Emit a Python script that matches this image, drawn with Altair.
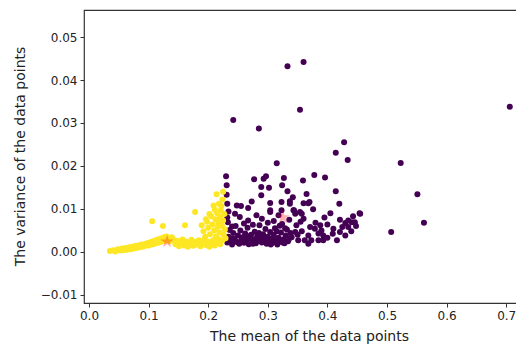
import altair as alt
import pandas as pd

# ---- cluster 0 (purple) ----
purple_pts = [
    (0.333, 0.0432), (0.360, 0.0442), (0.354, 0.0331), (0.242, 0.0307), (0.285, 0.0287),
    (0.428, 0.0255), (0.414, 0.0231), (0.434, 0.0214), (0.706, 0.0338), (0.523, 0.0207),
    (0.551, 0.0134), (0.455, 0.0089), (0.562, 0.0068), (0.507, 0.0046),
    (0.315, 0.0206), (0.230, 0.0176), (0.277, 0.0169), (0.297, 0.0176), (0.293, 0.0170),
    (0.327, 0.0172), (0.378, 0.0179), (0.396, 0.0173), (0.359, 0.0166),
    (0.324, 0.0155), (0.289, 0.0151), (0.302, 0.0149), (0.365, 0.0135), (0.414, 0.0141),
    (0.333, 0.0141), (0.231, 0.0133), (0.289, 0.0132),
    (0.323, 0.0116), (0.337, 0.0118), (0.304, 0.0114), (0.368, 0.0113), (0.420, 0.0112),
    (0.273, 0.0117), (0.248, 0.0108), (0.255, 0.0107), (0.267, 0.0102),
    (0.304, 0.0097), (0.323, 0.0097), (0.343, 0.0097), (0.354, 0.0093), (0.376, 0.0099),
    (0.234, 0.0094), (0.454, 0.0090), (0.443, 0.0083), (0.435, 0.0073),
    (0.360, 0.0113), (0.370, 0.0116), (0.344, 0.0097), (0.346, 0.0089), (0.357, 0.0089),
    (0.360, 0.0077), (0.421, 0.0075), (0.430, 0.0067), (0.441, 0.0069), (0.446, 0.0069),
    (0.435, 0.0058), (0.348, 0.0062), (0.346, 0.0046), (0.371, 0.0058), (0.379, 0.0054),
    (0.388, 0.0062), (0.390, 0.0050), (0.393, 0.0038), (0.410, 0.0054), (0.409, 0.0042),
    (0.416, 0.0027), (0.421, 0.0046), (0.430, 0.0038), (0.368, 0.0038), (0.373, 0.0027),
    (0.385, 0.0027), (0.393, 0.0027), (0.362, 0.0027), (0.368, 0.0019), (0.340, 0.0034),
    (0.351, 0.0027), (0.337, 0.0112), (0.342, 0.0127),
    (0.232, 0.0022), (0.234, 0.0035), (0.236, 0.0051), (0.238, 0.0028), (0.240, 0.0017),
    (0.242, 0.0044), (0.244, 0.0030), (0.246, 0.0060), (0.248, 0.0023), (0.250, 0.0038),
    (0.252, 0.0019), (0.254, 0.0050), (0.256, 0.0029), (0.258, 0.0034), (0.260, 0.0021),
    (0.262, 0.0043), (0.264, 0.0026), (0.266, 0.0056), (0.268, 0.0018), (0.270, 0.0032),
    (0.272, 0.0040), (0.274, 0.0024), (0.276, 0.0029), (0.278, 0.0047), (0.280, 0.0020),
    (0.282, 0.0036), (0.284, 0.0026), (0.286, 0.0062), (0.288, 0.0031), (0.290, 0.0022),
    (0.292, 0.0041), (0.294, 0.0027), (0.296, 0.0053), (0.298, 0.0019), (0.300, 0.0035),
    (0.302, 0.0025), (0.304, 0.0046), (0.306, 0.0030), (0.308, 0.0021), (0.310, 0.0039),
    (0.312, 0.0055), (0.314, 0.0028), (0.316, 0.0017), (0.318, 0.0033), (0.320, 0.0024),
    (0.322, 0.0045), (0.324, 0.0065), (0.326, 0.0029), (0.328, 0.0020), (0.330, 0.0038),
    (0.332, 0.0052), (0.334, 0.0025), (0.336, 0.0031), (0.338, 0.0044), (0.240, 0.0031),
    (0.255, 0.0024), (0.265, 0.0037), (0.275, 0.0019), (0.285, 0.0044), (0.295, 0.0033),
    (0.305, 0.0017), (0.315, 0.0048), (0.325, 0.0022), (0.245, 0.0026), (0.262, 0.0030),
    (0.283, 0.0029), (0.298, 0.0026), (0.233, 0.0069), (0.245, 0.0089), (0.253, 0.0081),
    (0.281, 0.0085), (0.290, 0.0077), (0.267, 0.0073), (0.304, 0.0093), (0.232, 0.0080),
    (0.260, 0.0066), (0.275, 0.0063), (0.310, 0.0072), (0.320, 0.0061), (0.300, 0.0068),
    (0.232, 0.0112), (0.240, 0.0059), (0.318, 0.0085), (0.336, 0.0075), (0.329, 0.0055),
    (0.231, 0.0155), (0.355, 0.0070), (0.380, 0.0068), (0.395, 0.0080), (0.400, 0.0064),
    (0.405, 0.0090), (0.425, 0.0058), (0.440, 0.0048), (0.448, 0.0060), (0.357, 0.0048),
    (0.385, 0.0043), (0.400, 0.0033), (0.350, 0.0040),
]

# ---- cluster 1 (yellow) ----
yellow_pts = [
    (0.035, 0.0002), (0.040, 0.0004), (0.044, 0.0001), (0.048, 0.0006), (0.052, 0.0003),
    (0.055, 0.0008), (0.058, 0.0004), (0.061, 0.0009), (0.064, 0.0005), (0.067, 0.0011),
    (0.070, 0.0006), (0.072, 0.0012), (0.075, 0.0008), (0.078, 0.0014), (0.080, 0.0009),
    (0.083, 0.0015), (0.085, 0.0011), (0.088, 0.0017), (0.090, 0.0012), (0.093, 0.0018),
    (0.095, 0.0014), (0.097, 0.0020), (0.100, 0.0015), (0.102, 0.0022), (0.104, 0.0017),
    (0.106, 0.0024), (0.108, 0.0018), (0.110, 0.0026), (0.112, 0.0020), (0.114, 0.0028),
    (0.116, 0.0021), (0.118, 0.0030), (0.120, 0.0023), (0.122, 0.0032), (0.124, 0.0025),
    (0.126, 0.0034), (0.128, 0.0027), (0.130, 0.0036), (0.133, 0.0030), (0.136, 0.0025),
    (0.139, 0.0034), (0.142, 0.0028),
    (0.145, 0.0018), (0.148, 0.0026), (0.151, 0.0013), (0.154, 0.0022), (0.157, 0.0029),
    (0.160, 0.0015), (0.163, 0.0024), (0.166, 0.0012), (0.169, 0.0021), (0.172, 0.0028),
    (0.175, 0.0014), (0.178, 0.0023), (0.181, 0.0017), (0.184, 0.0027), (0.187, 0.0013),
    (0.190, 0.0021), (0.193, 0.0028), (0.196, 0.0016), (0.199, 0.0024), (0.202, 0.0012),
    (0.205, 0.0020), (0.208, 0.0027), (0.211, 0.0015), (0.214, 0.0022), (0.217, 0.0030),
    (0.220, 0.0018), (0.224, 0.0027),
    (0.106, 0.0071), (0.124, 0.0060), (0.161, 0.0062), (0.178, 0.0093),
    (0.189, 0.0062), (0.192, 0.0048), (0.195, 0.0035), (0.198, 0.0070), (0.200, 0.0056),
    (0.203, 0.0041), (0.205, 0.0083), (0.207, 0.0064), (0.209, 0.0108), (0.210, 0.0050),
    (0.212, 0.0076), (0.213, 0.0036), (0.214, 0.0134), (0.215, 0.0090), (0.216, 0.0058),
    (0.217, 0.0068), (0.218, 0.0112), (0.219, 0.0045), (0.220, 0.0082), (0.221, 0.0097),
    (0.222, 0.0107), (0.223, 0.0061), (0.224, 0.0122), (0.225, 0.0073), (0.226, 0.0040),
    (0.227, 0.0088), (0.228, 0.0052), (0.229, 0.0032), (0.196, 0.0076), (0.202, 0.0088),
    (0.218, 0.0075), (0.211, 0.0098), (0.225, 0.0140),
]

# ---- centroids ----
centroid_x = [0.131, 0.3255]
centroid_y = [0.0024, 0.0080]

x_ticks = [0.0, 0.1, 0.2, 0.3, 0.4, 0.5, 0.6, 0.7]
y_ticks = [-0.01, 0.0, 0.01, 0.02, 0.03, 0.04, 0.05]

rows = []
for x, y in purple_pts:
    rows.append({"mean": x, "var": y, "cluster": "0"})
for x, y in yellow_pts:
    rows.append({"mean": x, "var": y, "cluster": "1"})
df = pd.DataFrame(rows)
cdf = pd.DataFrame({"mean": centroid_x, "var": centroid_y})

STAR = ("M0,-1L0.2245,-0.309L0.951,-0.309L0.363,0.118L0.588,0.809L0,0.382"
        "L-0.588,0.809L-0.363,0.118L-0.951,-0.309L-0.2245,-0.309Z")

xscale = alt.Scale(domain=[-0.0084, 0.7265], nice=False, zero=False)
yscale = alt.Scale(domain=[-0.0119, 0.0563], nice=False, zero=False)

xaxis = alt.Axis(values=x_ticks, format=".1f", title="The mean of the data points",
                 grid=False, tickSize=4, labelPadding=3, labelFontSize=12,
                 titleFontSize=14, titleFontWeight="normal", labelFont="DejaVu Sans",
                 titleFont="DejaVu Sans", labelColor="#222", titleColor="#222",
                 tickColor="#333", domain=False, labelFlush=False,
                 titleX=225, titleY=33, titleBaseline="middle", titleAlign="center")
yaxis = alt.Axis(values=y_ticks, format=".2f", title="The variance of the data points",
                 grid=False, tickSize=4, labelPadding=3, labelFontSize=12,
                 titleFontSize=14, titleFontWeight="normal", labelFont="DejaVu Sans",
                 titleFont="DejaVu Sans", labelColor="#222", titleColor="#222",
                 tickColor="#333", domain=False, labelFlush=False,
                 titleX=-64, titleY=146, titleAngle=270, titleBaseline="middle",
                 titleAlign="center")

points = alt.Chart(df).mark_circle(size=36, opacity=1).encode(
    x=alt.X("mean:Q", scale=xscale, axis=xaxis),
    y=alt.Y("var:Q", scale=yscale, axis=yaxis),
    color=alt.Color("cluster:N", scale=alt.Scale(domain=["0", "1"], range=["#440154", "#fde725"]),
                    legend=None),
)

stars = alt.Chart(cdf).mark_point(shape=STAR, size=200, filled=True, color="red",
                                  opacity=0.3).encode(
    x=alt.X("mean:Q", scale=xscale),
    y=alt.Y("var:Q", scale=yscale),
)

chart = alt.layer(points, stars).properties(
    width=438, height=293,
    autosize=alt.AutoSizeParams(type="none"),
    padding={"left": 76, "top": 2, "right": -6, "bottom": 42},
).configure_view(stroke="#333", strokeWidth=1.2)

chart.save("out.html", embed_options={"renderer": "svg", "actions": False})
